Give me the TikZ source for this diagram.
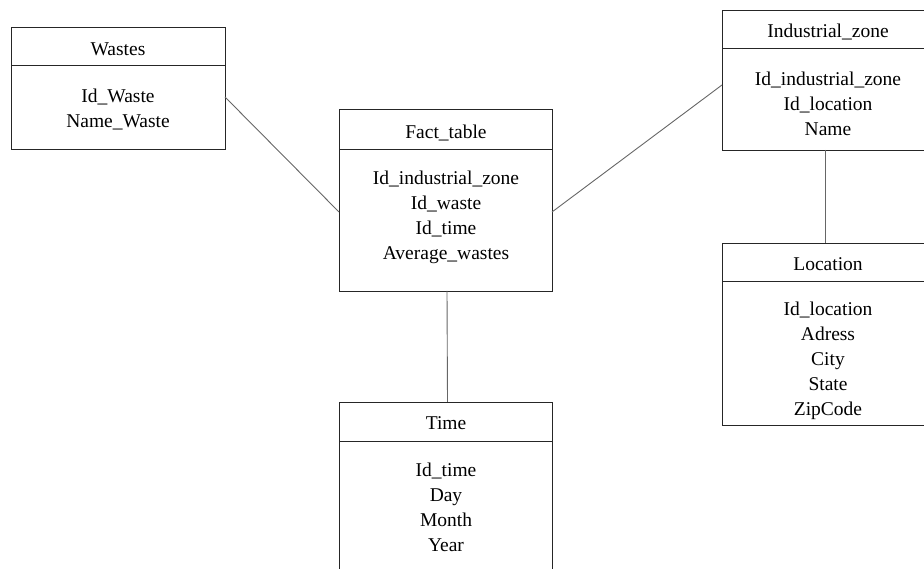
\documentclass[tikz,border=0pt]{standalone}
\usepackage{fontspec}
\setmainfont{Liberation Serif}
\begin{document}
\begin{tikzpicture}[x=1pt,y=1pt,
  tbl/.style={draw=black!85, line width=0.9pt, inner sep=0pt, outer sep=0pt},
  ttl/.style={font=\fontsize{19.5}{25}\selectfont, inner sep=0pt, anchor=base},
  body/.style={font=\fontsize{19.5}{25}\selectfont, align=center, inner sep=0pt},
  div/.style={draw=black!85, line width=0.9pt},
  conn/.style={draw=black!60, line width=0.9pt}]
\useasboundingbox (0,0) rectangle (924,569);
% Wastes
\node[tbl, minimum width=214pt, minimum height=122pt] (wastes) at (118,481) {};
\draw[div] (11,504) -- (225,504);
\node[ttl] (wastesT) at (118,513) {Wastes};
\node[body] (wastesB) at (118,459) {Id\_Waste\\Name\_Waste};
% Fact table
\node[tbl, minimum width=213pt, minimum height=182pt] (fact) at (445.5,369) {};
\draw[div] (339,420) -- (552,420);
\node[ttl] (factT) at (446,430) {Fact\_table};
\node[body] (factB) at (446,352) {Id\_industrial\_zone\\Id\_waste\\Id\_time\\Average\_wastes};
% Industrial zone
\node[tbl, minimum width=208pt, minimum height=140pt] (ind) at (826,489) {};
\draw[div] (722,521) -- (930,521);
\node[ttl] (indT) at (828,531) {Industrial\_zone};
\node[body] (indB) at (828,465) {Id\_industrial\_zone\\Id\_location\\Name};
% Location
\node[tbl, minimum width=208pt, minimum height=182pt] (loc) at (826,235) {};
\draw[div] (722,288) -- (930,288);
\node[ttl] (locT) at (828,298) {Location};
\node[body] (locB) at (828,208) {Id\_location\\Adress\\City\\State\\ZipCode};
% Time
\node[tbl, minimum width=213pt, minimum height=187pt] (time) at (445.5,73.5) {};
\draw[div] (339,128) -- (552,128);
\node[ttl] (timeT) at (446,139) {Time};
\node[body] (timeB) at (446,62) {Id\_time\\Day\\Month\\Year};
% connectors
\draw[conn] ([yshift=-9pt]wastes.east) -- ([yshift=-12pt]fact.west);
\draw[conn] ([yshift=-12pt]fact.east) -- ([yshift=-5pt]ind.west);
\draw[conn] ([xshift=1.5pt]fact.south) -- ([xshift=2pt]time.north);
\draw[conn] ([xshift=-1pt]ind.south) -- ([xshift=-1pt]loc.north);
\end{tikzpicture}
\end{document}
